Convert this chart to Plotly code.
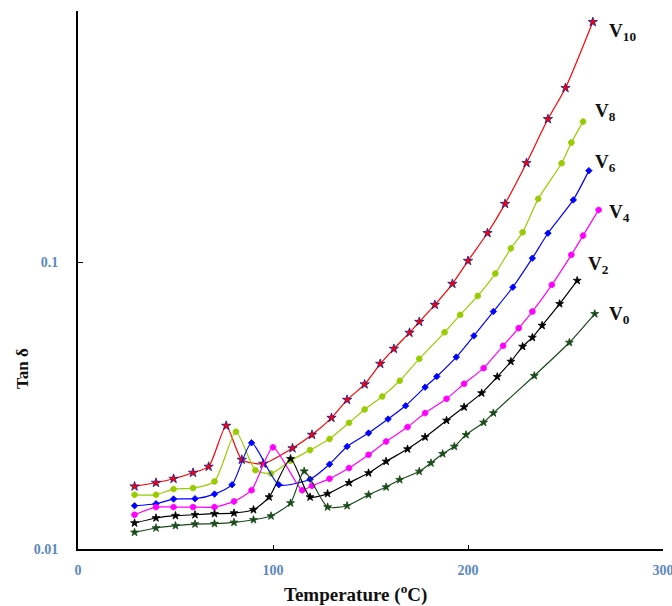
import numpy as np
import plotly.graph_objects as go

# Dielectric loss tangent vs temperature for six compositions
t_v10 = [29, 40, 49, 59, 67, 76, 84, 95, 110, 120, 130, 138, 147, 155, 162, 170, 175, 183, 192, 200, 210, 219, 230, 241, 250, 264]
tan_v10 = [0.01654, 0.01703, 0.01759, 0.01846, 0.01938, 0.02693, 0.02050, 0.01985, 0.02248, 0.02505, 0.02871, 0.03318, 0.03758,
           0.04431, 0.05000, 0.0569, 0.0621, 0.0712, 0.0843, 0.1014, 0.1268, 0.1603, 0.2227, 0.3169, 0.4071, 0.6918]

t_v8 = [29, 40, 49, 59, 70, 81, 91, 99, 109, 119, 129, 139, 147, 156, 165, 175, 188, 196, 205, 214, 222, 228, 236, 248, 253, 259]
tan_v8 = [0.01546, 0.01546, 0.01619, 0.01632, 0.01721, 0.02567, 0.01884, 0.01834, 0.02033, 0.02215, 0.02422, 0.02759, 0.03070,
          0.03407, 0.03866, 0.04613, 0.05708, 0.06569, 0.07652, 0.09155, 0.1121, 0.1275, 0.1669, 0.2222, 0.2623, 0.3105]

t_v6 = [29, 40, 49, 60, 70, 79, 89, 103, 119, 129, 138, 149, 159, 168, 178, 184, 194, 203, 213, 223, 233, 241, 254, 262]
tan_v6 = [0.01416, 0.01439, 0.01494, 0.01498, 0.01555, 0.01677, 0.02349, 0.01677, 0.01752, 0.01977, 0.02280, 0.02540,
          0.02842, 0.03162, 0.03674, 0.04002, 0.04677, 0.05548, 0.06745, 0.08207, 0.1036, 0.1266, 0.1655, 0.2094]

t_v4 = [29, 40, 49, 59, 70, 80, 89, 100, 115, 120, 129, 139, 149, 158, 169, 178, 189, 198, 208, 218, 226, 233, 243, 253, 259, 267]
tan_v4 = [0.01317, 0.01401, 0.01401, 0.01401, 0.01401, 0.01466, 0.01604, 0.02265, 0.01604, 0.01663, 0.01759, 0.01917, 0.02133,
          0.02374, 0.02665, 0.02982, 0.03345, 0.03774, 0.04281, 0.05121, 0.05904, 0.06745, 0.08362, 0.1064, 0.1242, 0.1527]

t_v2 = [29, 40, 50, 60, 70, 80, 90, 98, 109, 119, 128, 139, 149, 158, 169, 178, 189, 198, 207, 215, 222, 228, 233, 238, 247, 256]
tan_v2 = [0.01232, 0.01283, 0.01307, 0.01317, 0.01328, 0.01335, 0.01371, 0.01518, 0.02066, 0.01518, 0.01560, 0.01703, 0.01842,
          0.02022, 0.02233, 0.02459, 0.02810, 0.03129, 0.03502, 0.03992, 0.04514, 0.05091, 0.05473, 0.06028, 0.07177, 0.08652]

t_v0 = [29, 40, 50, 60, 70, 80, 90, 99, 109, 116, 128, 138, 149, 158, 165, 175, 181, 187, 193, 199, 208, 213, 234, 252, 265]
tan_v0 = [0.01143, 0.01184, 0.01206, 0.01222, 0.01226, 0.01238, 0.01265, 0.01304, 0.01447, 0.01869, 0.01401, 0.01416, 0.01546,
          0.01645, 0.01745, 0.01865, 0.01996, 0.02150, 0.02280, 0.02505, 0.02765, 0.02982, 0.04025, 0.05258, 0.06622]

names = ["V10", "V8", "V6", "V4", "V2", "V0"]
label_sub = ["10", "8", "6", "4", "2", "0"]
label_x = [271.4, 264.1, 264.1, 271.4, 260.7, 271.4]
label_y = [0.640, 0.3366, 0.2228, 0.1486, 0.0982, 0.0657]

series = [
    (t_v10, tan_v10, "#FF0000", "star", 7, "#1A1A8C"),
    (t_v8, tan_v8, "#99CC00", "octagon", 6, "#99CC00"),
    (t_v6, tan_v6, "#0000FF", "diamond", 5, "#0000FF"),
    (t_v4, tan_v4, "#FF00FF", "octagon", 6, "#FF00FF"),
    (t_v2, tan_v2, "#000000", "star", 6, "#000000"),
    (t_v0, tan_v0, "#1B4A1B", "star", 6, "#1B4A1B"),
]

fig = go.Figure()
for name, (tx, ty, col, sym, sz, edge) in zip(names, series):
    fig.add_trace(go.Scatter(
        x=tx, y=ty, name=name, mode="lines+markers",
        line=dict(color=col, width=1.2, shape="spline", smoothing=0.6),
        marker=dict(symbol=sym, size=sz, color=col, line=dict(color=edge, width=0.8)),
        showlegend=False,
    ))

serif = "Liberation Serif, Times New Roman, serif"
for sub, lx, ly in zip(label_sub, label_x, label_y):
    fig.add_annotation(
        x=lx, y=np.log10(ly), xref="x", yref="y", xanchor="left", yanchor="middle",
        text="<b>V<sub>" + sub + "</sub></b>", showarrow=False,
        font=dict(family=serif, size=19, color="#111111"),
    )

fig.add_annotation(
    x=(355 - 78) / (663 - 78), y=-(593 - 549) / (549 - 11), xref="paper", yref="paper",
    xanchor="center", yanchor="middle", showarrow=False,
    text="<b>Temperature (<sup>o</sup>C)</b>", font=dict(family=serif, size=19, color="#111111"),
)
fig.add_annotation(
    x=-(78 - 22) / (663 - 78), y=(549 - 368) / (549 - 11), xref="paper", yref="paper",
    xanchor="center", yanchor="middle", showarrow=False, textangle=-90,
    text="<b>Tan δ</b>", font=dict(family=serif, size=17, color="#111111"),
)

tick_font = dict(family=serif, size=14, color="#5B87C0", weight="bold")
fig.update_layout(
    width=672, height=606,
    margin=dict(l=78, r=9, t=11, b=57),
    paper_bgcolor="white", plot_bgcolor="white",
    xaxis=dict(
        range=[0, 300], tickvals=[0, 100, 200, 300], ticks="inside", ticklen=4,
        tickcolor="black", showline=True, linecolor="black", linewidth=2,
        showgrid=False, zeroline=False, tickfont=tick_font, ticklabelstandoff=7,
        ticklabeloverflow="allow", automargin=False,
    ),
    yaxis=dict(
        type="log", range=[-2, -0.1217], tickvals=[0.01, 0.1], ticktext=["0.01", "0.1"],
        ticks="inside", ticklen=5, tickcolor="black", showline=True, linecolor="black",
        linewidth=2, showgrid=False, zeroline=False, tickfont=tick_font, ticklabelstandoff=15,
        automargin=False,
    ),
)

fig.write_html("out.html")
